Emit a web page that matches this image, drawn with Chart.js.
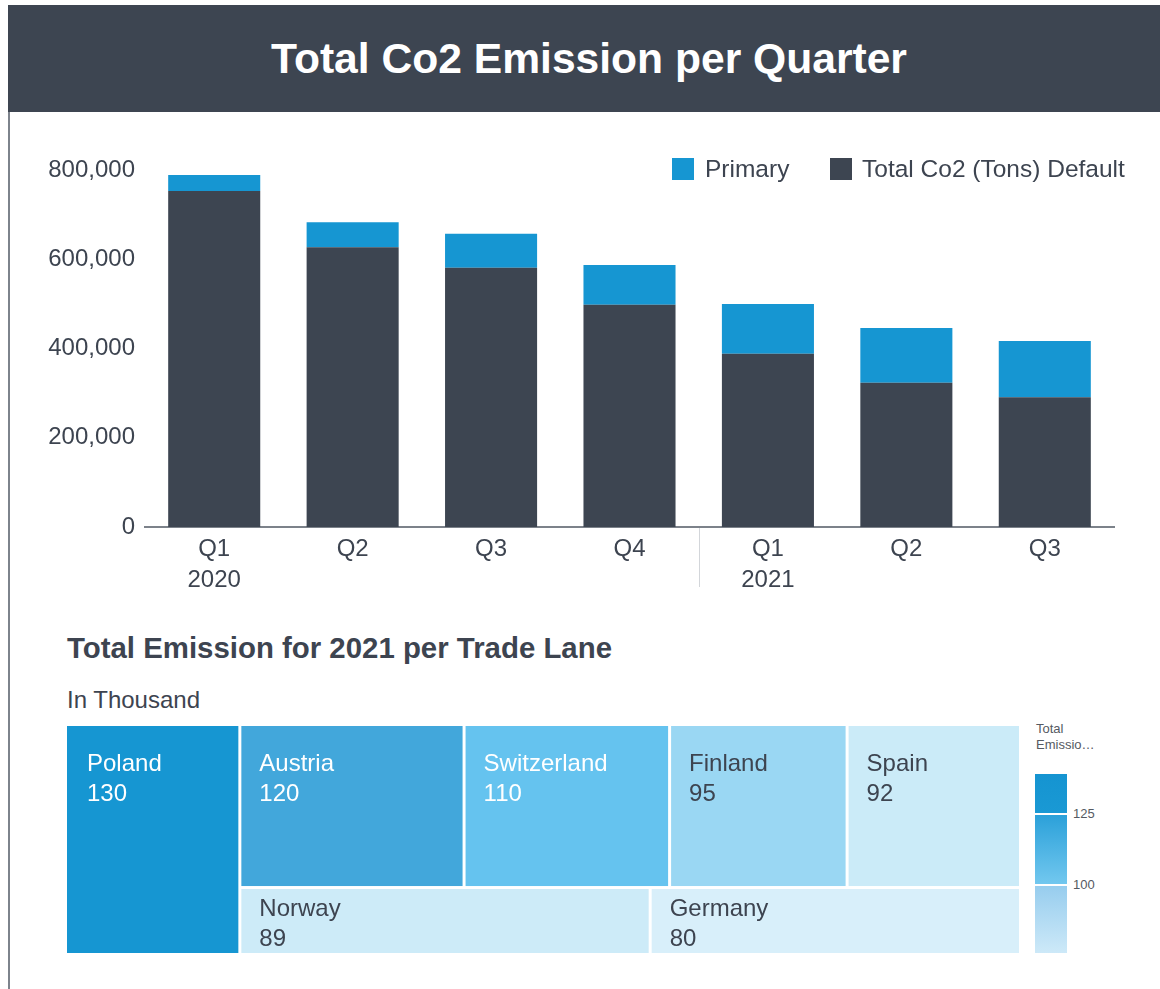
<!DOCTYPE html>
<html><head><meta charset="utf-8">
<script src="https://cdn.jsdelivr.net/npm/chart.js@4.4.1/dist/chart.umd.min.js"></script>
<style>
html,body{margin:0;padding:0;background:#fff;}
body{width:1160px;height:989px;position:relative;overflow:hidden;font-family:"Liberation Sans",Arial,sans-serif;color:#3d4450;}
#header{position:absolute;left:8px;top:5px;width:1152px;height:107px;background:#3d4551;}
#title{position:absolute;left:0;top:5px;width:1178px;height:107px;line-height:107px;text-align:center;color:#fff;font-weight:bold;font-size:42.6px;margin:0;}
#leftline{position:absolute;left:8px;top:112px;width:1.5px;height:877px;background:#7d838c;}
#barWrap{position:absolute;left:0;top:120px;width:1160px;height:480px;}
.lg{position:absolute;font-size:24.5px;line-height:28px;top:155px;white-space:nowrap;}
.sw{position:absolute;width:22px;height:22px;top:158px;}
#sub{position:absolute;left:67px;top:631px;font-size:29.4px;line-height:34px;font-weight:bold;margin:0;white-space:nowrap;}
#unit{position:absolute;left:67px;top:686px;font-size:24px;line-height:28px;white-space:nowrap;}
#tmWrap{position:absolute;left:67px;top:726px;width:952px;height:227px;}
.cl{position:absolute;font-size:13px;line-height:16px;color:#555a62;white-space:nowrap;}
#grad{position:absolute;left:1035px;top:774px;width:32px;height:179px;
background:linear-gradient(to bottom,#1594d1 0px,#1a99d4 39px,#2aa0d9 40px,#73c8ef 111px,#97cdee 112px,#cde9f8 179px);}
.gl{position:absolute;left:1035px;width:32px;height:1.5px;background:#fff;}
</style></head>
<body>
<div id="header"></div>
<h1 id="title">Total Co2 Emission per Quarter</h1>
<div id="leftline"></div>
<div id="barWrap"><canvas id="bar" width="1160" height="480"></canvas></div>
<div class="sw" style="left:672px;background:#1696d2"></div>
<div class="lg" style="left:705px">Primary</div>
<div class="sw" style="left:830px;background:#3d4551"></div>
<div class="lg" style="left:862px">Total Co2 (Tons) Default</div>
<h2 id="sub">Total Emission for 2021 per Trade Lane</h2>
<div id="unit">In Thousand</div>
<div id="tmWrap"><canvas id="tm" width="952" height="227"></canvas></div>
<div class="cl" style="left:1036px;top:721px">Total</div>
<div class="cl" style="left:1036px;top:737px">Emissio…</div>
<div id="grad"></div>
<div class="gl" style="top:813px"></div>
<div class="gl" style="top:884px"></div>
<div class="cl" style="left:1073px;top:806px">125</div>
<div class="cl" style="left:1073px;top:877px">100</div>
<script>
// ---- Bar chart data ----
const quarters = ['Q1','Q2','Q3','Q4','Q1','Q2','Q3'];
const years = ['2020','','','','2021','',''];
const defaultTons = [753000,627000,581000,498000,388000,323000,291000];
const primaryTons = [36000,56000,76000,89000,112000,123000,126000];
const yTickValues = [0,200000,400000,600000,800000];

// ---- Treemap data ----
const lanes = ['Poland','Austria','Switzerland','Finland','Spain','Norway','Germany'];
const laneValues = [130,120,110,95,92,89,80];
const laneGroups = [[0],[1,2,3,4],[5,6]]; // first group a column, the rest stacked rows
const laneColors = ['#1696d2','#42a7db','#65c3ef','#9ad7f3','#cbebf8','#cdebf8','#d8effa'];
const laneTextColors = ['#ffffff','#ffffff','#ffffff','#3d4450','#3d4450','#3d4450','#3d4450'];

const FONT = '"Liberation Sans", Arial, sans-serif';
const TXT = '#3d4450';

const separator = {
  id:'separator',
  afterDraw(chart){
    const x = chart.scales.x, ca = chart.chartArea, ctx = chart.ctx;
    const px = (x.getPixelForValue(3) + x.getPixelForValue(4)) / 2;
    ctx.save();
    ctx.strokeStyle = '#d3d6da'; ctx.lineWidth = 1;
    ctx.beginPath(); ctx.moveTo(Math.round(px)+0.5, ca.bottom+1); ctx.lineTo(Math.round(px)+0.5, ca.bottom+60); ctx.stroke();
    ctx.restore();
  }
};

new Chart(document.getElementById('bar'), {
  type:'bar',
  data:{
    labels: quarters.map((q,i)=>[q, years[i]]),
    datasets:[
      {label:'Total Co2 (Tons) Default', data:defaultTons, backgroundColor:'#3d4551', barPercentage:0.665, categoryPercentage:1},
      {label:'Primary', data:primaryTons, backgroundColor:'#1696d2', barPercentage:0.665, categoryPercentage:1}
    ]
  },
  options:{
    responsive:false, animation:false,
    layout:{padding:{top:50,right:46,left:0,bottom:0}},
    plugins:{legend:{display:false}, tooltip:{enabled:false}},
    scales:{
      x:{stacked:true,
        grid:{display:true,color:'transparent',drawTicks:false,drawOnChartArea:false},
        border:{display:true,color:'#7c828a',width:2},
        ticks:{color:TXT,font:{family:FONT,size:24,lineHeight:1.3},padding:7,maxRotation:0,autoSkip:false},
        afterFit(s){s.height=73;}
      },
      y:{stacked:true,min:0,max:800000,
        afterBuildTicks(s){s.ticks = yTickValues.map(v=>({value:v}));},
        grid:{display:false,drawTicks:false},
        border:{display:false},
        ticks:{color:TXT,font:{family:FONT,size:24},padding:10,callback:v=>v.toLocaleString('en-US')},
        afterFit(s){s.width=145;}
      }
    }
  },
  plugins:[separator]
});

// ---- Treemap via plugin on linear scales ----
function layoutCells(){
  const total = laneValues.reduce((a,b)=>a+b,0);
  const cells = [];
  const colIdx = laneGroups[0];
  const colSum = colIdx.reduce((a,i)=>a+laneValues[i],0);
  const colW = colSum/total;
  let cy = 0;
  colIdx.forEach(i=>{const h = laneValues[i]/colSum; cells.push({i,x0:0,x1:colW,y0:cy,y1:cy+h}); cy+=h;});
  const rows = laneGroups.slice(1);
  const restSum = rows.reduce((a,r)=>a+r.reduce((b,i)=>b+laneValues[i],0),0);
  let ry = 0;
  rows.forEach(r=>{
    const rs = r.reduce((b,i)=>b+laneValues[i],0);
    const h = rs/restSum;
    let rx = colW;
    r.forEach(i=>{const w = laneValues[i]/rs*(1-colW); cells.push({i,x0:rx,x1:rx+w,y0:ry,y1:ry+h}); rx+=w;});
    ry += h;
  });
  return cells;
}
const treemapPlugin = {
  id:'treemap',
  afterDatasetsDraw(chart){
    const xs = chart.scales.x, ys = chart.scales.y, ctx = chart.ctx;
    const g = 1.5, eps = 1e-6;
    layoutCells().forEach(c=>{
      let L = xs.getPixelForValue(c.x0), R = xs.getPixelForValue(c.x1);
      let T = ys.getPixelForValue(c.y0), B = ys.getPixelForValue(c.y1);
      if (c.x0 > eps) L += g; if (c.x1 < 1-eps) R -= g;
      if (c.y0 > eps) T += g; if (c.y1 < 1-eps) B -= g;
      ctx.save();
      ctx.fillStyle = laneColors[c.i];
      ctx.fillRect(L, T, R-L, B-T);
      ctx.fillStyle = laneTextColors[c.i];
      ctx.font = '24px ' + FONT;
      ctx.textBaseline = 'middle'; ctx.textAlign = 'left';
      const lh = 29.5;
      const pad = Math.min(24, (B-T) - 2*lh + 1);
      const inset = c.x0 > eps ? 18 : 20;
      ctx.fillText(lanes[c.i], L+inset, T+pad+lh/2);
      ctx.fillText(String(laneValues[c.i]), L+inset, T+pad+lh*1.5);
      ctx.restore();
    });
  }
};
new Chart(document.getElementById('tm'), {
  type:'scatter',
  data:{datasets:[{data:[]}]},
  options:{
    responsive:false, animation:false,
    layout:{padding:0},
    plugins:{legend:{display:false}, tooltip:{enabled:false}},
    scales:{
      x:{type:'linear',min:0,max:1,display:false},
      y:{type:'linear',min:0,max:1,reverse:true,display:false}
    }
  },
  plugins:[treemapPlugin]
});
</script>
</body></html>
